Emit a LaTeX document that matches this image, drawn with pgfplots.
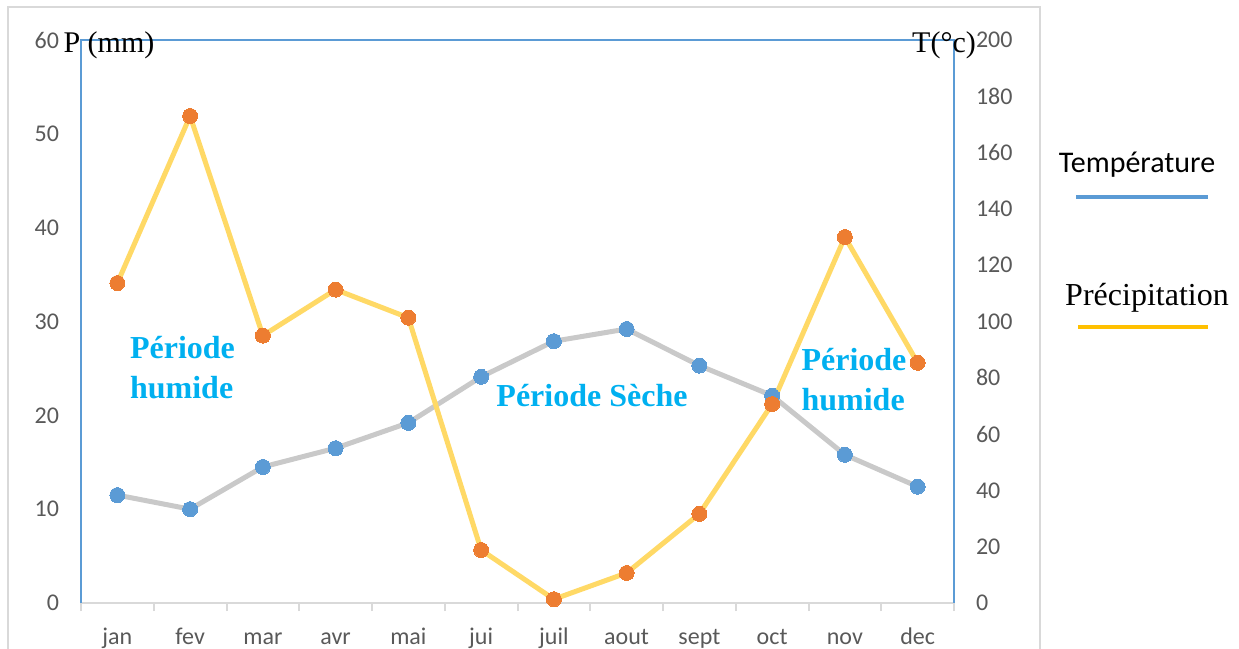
\documentclass[border=0pt]{standalone}
\usepackage{pgfplots}
\pgfplotsset{compat=1.18}
\usepackage{fontspec}
\setmainfont{Carlito}
\newfontfamily\timesfont{Liberation Serif}
\definecolor{frameblue}{HTML}{5B9BD5}
\definecolor{markblue}{HTML}{5B9BD5}
\definecolor{markorange}{HTML}{ED7D31}
\definecolor{lgray}{HTML}{C9C9C9}
\definecolor{lyellow}{HTML}{FFD966}
\definecolor{legyellow}{HTML}{FFC000}
\definecolor{gridgray}{HTML}{D9D9D9}
\definecolor{ticktext}{HTML}{595959}
\definecolor{annot}{HTML}{00B0F0}
\begin{document}
\begin{tikzpicture}
\path[use as bounding box] (-40.5pt,-23pt) rectangle (579pt,301.5pt);
\draw[gridgray, line width=1pt] (-36.5pt,-30pt) -- (-36.5pt,298pt) -- (479.5pt,298pt) -- (479.5pt,-30pt);
\begin{axis}[
  at={(0pt,0pt)}, anchor=south west,
  width=436.5pt, height=281.5pt, scale only axis,
  xmin=-0.5, xmax=11.5, ymin=0, ymax=60,
  axis line style={draw=none},
  xtick={0,...,11},
  xticklabels={jan,fev,mar,avr,mai,jui,juil,aout,sept,oct,nov,dec},
  minor xtick={-0.5,0.5,...,11.5},
  major tick length=0pt,
  minor tick length=4pt,
  xtick align=outside,
  tick pos=left,
  minor tick style={gridgray, line width=1pt},
  ytick={0,10,...,60},
  /pgf/number format/assume math mode=true,
  tick label style={font=\fontsize{12}{14}\selectfont, text=ticktext},
  xticklabel style={anchor=base, yshift=-20.5pt},
  yticklabel style={xshift=-7.5pt},
  clip=false,
]
\addplot[lgray, line width=2.5pt, mark=*, mark size=3.75pt,
  mark options={draw=markblue, fill=markblue, line width=0pt}] coordinates {
 (0,11.5) (1,10.0) (2,14.5) (3,16.5) (4,19.2) (5,24.1)
 (6,27.9) (7,29.2) (8,25.3) (9,22.1) (10,15.8) (11,12.4)};
\addplot[lyellow, line width=2.5pt, mark=*, mark size=3.75pt,
  mark options={draw=markorange, fill=markorange, line width=0pt}] coordinates {
 (0,34.1) (1,51.9) (2,28.5) (3,33.4) (4,30.4) (5,5.65)
 (6,0.4) (7,3.2) (8,9.5) (9,21.2) (10,39.0) (11,25.6)};
\draw[gridgray, line width=1pt] (rel axis cs:0,0) -- (rel axis cs:1,0);
\draw[frameblue, line width=0.8pt] (rel axis cs:0,0) -- (rel axis cs:0,1) -- (rel axis cs:1,1) -- (rel axis cs:1,0);
\end{axis}
\begin{axis}[
  at={(0pt,0pt)}, anchor=south west,
  width=436.5pt, height=281.5pt, scale only axis,
  xmin=-0.5, xmax=11.5, ymin=0, ymax=200,
  axis line style={draw=none},
  xtick=\empty,
  ytick={0,20,...,200},
  yticklabel pos=right,
  major tick length=0pt,
  /pgf/number format/assume math mode=true,
  tick label style={font=\fontsize{12}{14}\selectfont, text=ticktext},
  yticklabel style={xshift=7.5pt},
]
\end{axis}
\node[font=\timesfont\fontsize{15}{18}\selectfont, anchor=base] at (14pt,275pt) {P (mm)};
\node[font=\timesfont\fontsize{15}{18}\selectfont, anchor=base] at (431.5pt,275pt) {T(°c)};
\node[font=\fontsize{15}{18}\selectfont, text=black] at (528pt,219pt) {Température};
\draw[frameblue, line width=2pt] (497.5pt,203pt) -- (563.5pt,203pt);
\node[font=\timesfont\fontsize{16}{18}\selectfont] at (533pt,152.5pt) {Précipitation};
\draw[legyellow, line width=2pt] (498.5pt,138pt) -- (563.5pt,138pt);
\node[font=\timesfont\bfseries\fontsize{16}{20}\selectfont, text=annot, align=left] at (50.75pt,117.5pt) {Période\\humide};
\node[font=\timesfont\bfseries\fontsize{16}{20}\selectfont, text=annot] at (255.5pt,103.5pt) {Période Sèche};
\node[font=\timesfont\bfseries\fontsize{16}{20}\selectfont, text=annot, align=left] at (386.5pt,111.5pt) {Période\\humide};
\end{tikzpicture}
\end{document}
